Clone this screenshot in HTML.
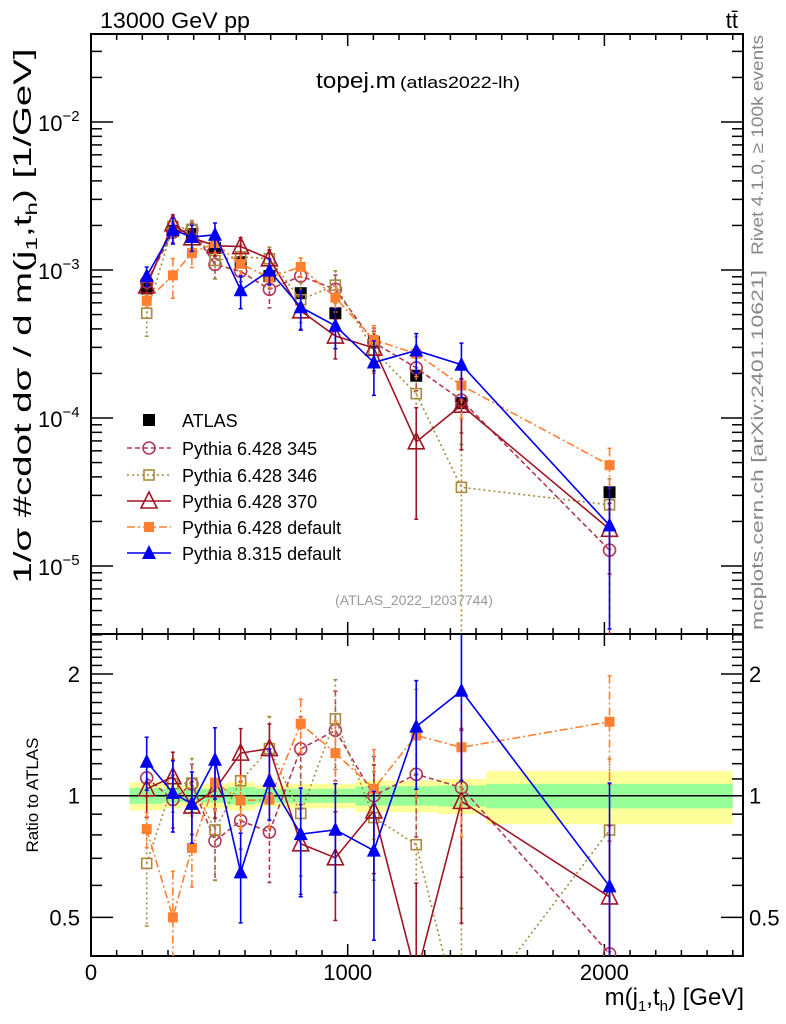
<!DOCTYPE html>
<html><head><meta charset="utf-8"><style>
html,body{margin:0;padding:0;background:#fff;width:786px;height:1024px;overflow:hidden;}
svg{display:block;font-family:"Liberation Sans",sans-serif;}
</style></head><body>
<svg id="c" width="786" height="1024" viewBox="0 0 786 1024" xmlns="http://www.w3.org/2000/svg">
<defs>
<clipPath id="cm"><rect x="91" y="34" width="652" height="600"/></clipPath>
<clipPath id="cr"><rect x="91" y="634" width="652" height="322"/></clipPath>
</defs>
<g id="bands" clip-path="url(#cr)"></g>
<g id="axes"></g>
<g id="mainMarks" clip-path="url(#cm)"></g>
<g id="ratioMarks" clip-path="url(#cr)"></g>
<text x="100" y="28" font-size="22" textLength="150" lengthAdjust="spacingAndGlyphs">13000 GeV pp</text>
<text x="738" y="28" font-size="22" text-anchor="end">tt̄</text>
<text x="396" y="88" font-size="22" text-anchor="end" textLength="80" lengthAdjust="spacingAndGlyphs">topej.m</text>
<text x="400" y="88" font-size="17" textLength="120" lengthAdjust="spacingAndGlyphs">(atlas2022-lh)</text>
<text x="414" y="605" font-size="14" fill="#999" text-anchor="middle">(ATLAS_2022_I2037744)</text>
<text transform="translate(763,145) rotate(-90)" font-size="17" fill="#888" text-anchor="middle" textLength="220" lengthAdjust="spacingAndGlyphs">Rivet 4.1.0, ≥ 100k events</text>
<text transform="translate(763,450) rotate(-90)" font-size="17" fill="#888" text-anchor="middle" textLength="360" lengthAdjust="spacingAndGlyphs">mcplots.cern.ch [arXiv:2401.10621]</text>
<text transform="translate(31,316) rotate(-90)" font-size="25" text-anchor="middle" textLength="535" lengthAdjust="spacingAndGlyphs">1/σ #cdot dσ / d m(j<tspan font-size="16" dy="6">1</tspan><tspan dy="-6">,t</tspan><tspan font-size="16" dy="6">h</tspan><tspan dy="-6">) [1/GeV]</tspan></text>
<text transform="translate(38,795) rotate(-90)" font-size="17" text-anchor="middle">Ratio to ATLAS</text>
<text x="744" y="1005" font-size="24" text-anchor="end">m(j<tspan font-size="15" dy="6">1</tspan><tspan dy="-6">,t</tspan><tspan font-size="15" dy="6">h</tspan><tspan dy="-6">) [GeV]</tspan></text>
<g id="legend"></g>
</svg>
<script>
const categories=[217,319,393,483,583,695,817,952,1102,1267,1443,2020];
const binEdges=[150,280,350,430,530,640,750,880,1030,1180,1350,1540,2500];
const atlas=[7.5e-4,1.84e-3,1.75e-3,1.41e-3,1.13e-3,9.1e-4,6.97e-4,5.1e-4,3.24e-4,1.93e-4,1.26e-4,3.15e-5];
const atlasErr=[0.05,0.05,0.05,0.05,0.05,0.05,0.05,0.05,0.06,0.06,0.07,0.08];
const bandYellow=[0.08,0.07,0.06,0.07,0.08,0.06,0.07,0.07,0.09,0.09,0.1,0.15];
const bandGreen=[0.045,0.04,0.035,0.04,0.05,0.04,0.04,0.04,0.055,0.055,0.06,0.07];
const p345=[8.3e-4,1.80e-3,1.87e-3,1.09e-3,9.8e-4,7.4e-4,9.1e-4,7.4e-4,3.24e-4,2.18e-4,1.32e-4,1.28e-5];
const p346=[5.1e-4,1.97e-3,1.88e-3,1.16e-3,1.23e-3,1.19e-3,6.3e-4,7.9e-4,2.86e-4,1.46e-4,3.4e-5,2.59e-5];
const p370=[7.8e-4,2.05e-3,1.65e-3,1.46e-3,1.44e-3,1.19e-3,5.3e-4,3.58e-4,2.97e-4,6.9e-5,1.22e-4,1.77e-5];
const p6def=[6.2e-4,9.2e-4,1.30e-3,1.52e-3,1.10e-3,8.9e-4,1.05e-3,6.5e-4,3.37e-4,2.72e-4,1.66e-4,4.8e-5];
const p8def=[9.1e-4,1.87e-3,1.67e-3,1.73e-3,7.3e-4,9.9e-4,5.6e-4,4.2e-4,2.37e-4,2.86e-4,2.29e-4,1.88e-5];
const e345=[0.1,0.15,0.12,0.2,0.15,0.25,0.2,0.25,0.25,0.3,0.4,0.9];
const e346=[0.3,0.15,0.15,0.25,0.2,0.2,0.3,0.25,0.3,0.5,0.95,0.5];
const e370=[0.15,0.15,0.15,0.15,0.15,0.15,0.25,0.3,0.3,0.7,0.5,0.5];
const e6def=[0.1,0.3,0.2,0.15,0.15,0.15,0.15,0.2,0.25,0.3,0.4,0.3];
const e8def=[0.15,0.2,0.2,0.2,0.25,0.2,0.3,0.3,0.4,0.3,0.4,0.8];
const xTicks=[0,1000,2000];
const mainTickExp=[-2,-3,-4,-5];
const ratioTicks=[0.5,1,2];

const NS="http://www.w3.org/2000/svg";
const X=v=>91+v*0.2567;
const Y=v=>122+148*(-2-Math.log10(v));
const R=r=>795.7-121.7*Math.log2(r);
function mk(tag,attrs,parent){const e=document.createElementNS(NS,tag);for(const k in attrs)e.setAttribute(k,attrs[k]);parent.appendChild(e);return e;}
const axes=document.getElementById('axes');
const bands=document.getElementById('bands');
const mm=document.getElementById('mainMarks');
const rm=document.getElementById('ratioMarks');
const lg=document.getElementById('legend');

for(let i=0;i<categories.length;i++){
  const x1=X(binEdges[i]),x2=X(binEdges[i+1]);
  let b=mk('rect',{x:x1,y:R(1+bandYellow[i]),width:x2-x1,height:R(1-bandYellow[i])-R(1+bandYellow[i]),fill:'#ffff99'},bands);
  
  
  b=mk('rect',{x:x1,y:R(1+bandGreen[i]),width:x2-x1,height:R(1-bandGreen[i])-R(1+bandGreen[i]),fill:'#99ff99'},bands);
  
  
}
mk('line',{x1:91,x2:743,y1:R(1),y2:R(1),stroke:'#000','stroke-width':1.5},bands);

let f=mk('rect',{x:91,y:34,width:652,height:600,fill:'none',stroke:'#000','stroke-width':2},axes);


f=mk('rect',{x:91,y:634,width:652,height:322,fill:'none',stroke:'#000','stroke-width':2},axes);



for(let v=0;v<=2500;v+=100){
  const x=X(v),maj=v%1000===0,l=maj?12:6;
  if(x>743)continue;
  mk('line',{x1:x,x2:x,y1:34,y2:34+l,stroke:'#000','stroke-width':1.5},axes);
  mk('line',{x1:x,x2:x,y1:634-l,y2:634,stroke:'#000','stroke-width':1.5},axes);
  mk('line',{x1:x,x2:x,y1:634,y2:634+l,stroke:'#000','stroke-width':1.5},axes);
  mk('line',{x1:x,x2:x,y1:956-l,y2:956,stroke:'#000','stroke-width':1.5},axes);
}
xTicks.forEach(v=>{const t=mk('text',{x:X(v),y:980,'font-size':22,'text-anchor':'middle'},axes);t.textContent=v;
  
  });

for(let e=-6;e<=-1;e++){for(let m=1;m<10;m++){const v=m*Math.pow(10,e);const y=Y(v);if(y<34||y>634)continue;const l=m===1?22:11;
  mk('line',{x1:91,x2:91+l,y1:y,y2:y,stroke:'#000','stroke-width':1.5},axes);
  mk('line',{x1:743-l,x2:743,y1:y,y2:y,stroke:'#000','stroke-width':1.5},axes);}}
mainTickExp.forEach(e=>{const t=mk('text',{x:38,y:Y(Math.pow(10,e))+9,'font-size':22},axes);
  t.textContent='10';
  const s=mk('tspan',{'font-size':15,dy:-10},t);s.textContent='−'+(-e);
  
  });

for(let r=0.4;r<=2.6;r+=0.1){const rr=Math.round(r*10)/10;const y=R(rr);if(y<634||y>956)continue;const maj=ratioTicks.includes(rr);const l=maj?22:11;
  mk('line',{x1:91,x2:91+l,y1:y,y2:y,stroke:'#000','stroke-width':1.5},axes);
  mk('line',{x1:743-l,x2:743,y1:y,y2:y,stroke:'#000','stroke-width':1.5},axes);}
ratioTicks.forEach(r=>{
  let t=mk('text',{x:80,y:R(r)+8,'font-size':22,'text-anchor':'end'},axes);t.textContent=r;
  
  
  t=mk('text',{x:749,y:R(r)+8,'font-size':22},axes);t.textContent=r;
  
  });

function marker(g,type,color,x,y,s){
  if(type==='sq')return mk('rect',{x:x-s,y:y-s,width:2*s,height:2*s,fill:color},g);
  if(type==='osq')return mk('rect',{x:x-s+1,y:y-s+1,width:2*s-2,height:2*s-2,fill:'none',stroke:color,'stroke-width':1.6},g);
  if(type==='oc')return mk('circle',{cx:x,cy:y,r:s,fill:'none',stroke:color,'stroke-width':1.6},g);
  if(type==='ot')return mk('polygon',{points:`${x},${y-s-2} ${x-s-1},${y+s} ${x+s+1},${y+s}`,fill:'none',stroke:color,'stroke-width':1.6},g);
  if(type==='t')return mk('polygon',{points:`${x},${y-s-2} ${x-s-1},${y+s} ${x+s+1},${y+s}`,fill:color},g);
}
const series=[
 {name:'pythia-6428-345',label:'Pythia 6.428 345',vals:p345,err:e345,color:'#b03a55',dash:'5,3',mk:'oc',s:6},
 {name:'pythia-6428-346',label:'Pythia 6.428 346',vals:p346,err:e346,color:'#a88a3e',dash:'2,3',mk:'osq',s:6},
 {name:'pythia-6428-370',label:'Pythia 6.428 370',vals:p370,err:e370,color:'#a01525',dash:'',mk:'ot',s:7},
 {name:'pythia-6428-default',label:'Pythia 6.428 default',vals:p6def,err:e6def,color:'#ff8030',dash:'8,3,2,3',mk:'sq',s:5},
 {name:'pythia-8315-default',label:'Pythia 8.315 default',vals:p8def,err:e8def,color:'#0000ee',dash:'',mk:'t',s:6}
];
function drawSeries(g,vals,errs,color,dash,mt,s,Ymap,name,line){
  if(line){
    const pts=vals.map((v,i)=>X(categories[i])+','+Ymap(v)).join(' ');
    const pl=mk('polyline',{points:pts,fill:'none',stroke:color,'stroke-width':1.6,'stroke-dasharray':dash},g);
    
    
  }
  vals.forEach((v,i)=>{const x=X(categories[i]);const lo=Math.max(v*(1-errs[i]),v*0.001);const hi=v*(1+errs[i]);
    const eb=mk('line',{x1:x,x2:x,y1:Ymap(hi),y2:Ymap(lo),stroke:color,'stroke-width':1.6,'stroke-dasharray':dash},g);
    
    
    mk('line',{x1:x-2,x2:x+2,y1:Ymap(hi),y2:Ymap(hi),stroke:color,'stroke-width':1.5},g);
    mk('line',{x1:x-2,x2:x+2,y1:Ymap(lo),y2:Ymap(lo),stroke:color,'stroke-width':1.5},g);
    const m=marker(g,mt,color,x,Ymap(v),s);
    
    });
}
drawSeries(mm,atlas,atlasErr,'#000','','sq',6,Y,'atlas-data',false);
series.forEach(sr=>{
  drawSeries(mm,sr.vals,sr.err,sr.color,sr.dash,sr.mk,sr.s,Y,sr.name,true);
  const rv=sr.vals.map((v,i)=>v/atlas[i]);
  drawSeries(rm,rv,sr.err,sr.color,sr.dash,sr.mk,sr.s,R,sr.name+'-ratio',true);
});

const ly=[420,448,475,501,527,553];
let le=marker(lg,'sq','#000',149,ly[0],6);


let lt=mk('text',{x:182,y:ly[0]+7,'font-size':18},lg);lt.textContent='ATLAS';


series.forEach((sr,i)=>{const y=ly[i+1];
  mk('line',{x1:127,x2:171,y1:y,y2:y,stroke:sr.color,'stroke-width':1.6,'stroke-dasharray':sr.dash},lg);
  const m=marker(lg,sr.mk,sr.color,149,y,sr.s);
  
  
  const t=mk('text',{x:182,y:y+7,'font-size':18},lg);t.textContent=sr.label;
  
  });
</script>
</body></html>
